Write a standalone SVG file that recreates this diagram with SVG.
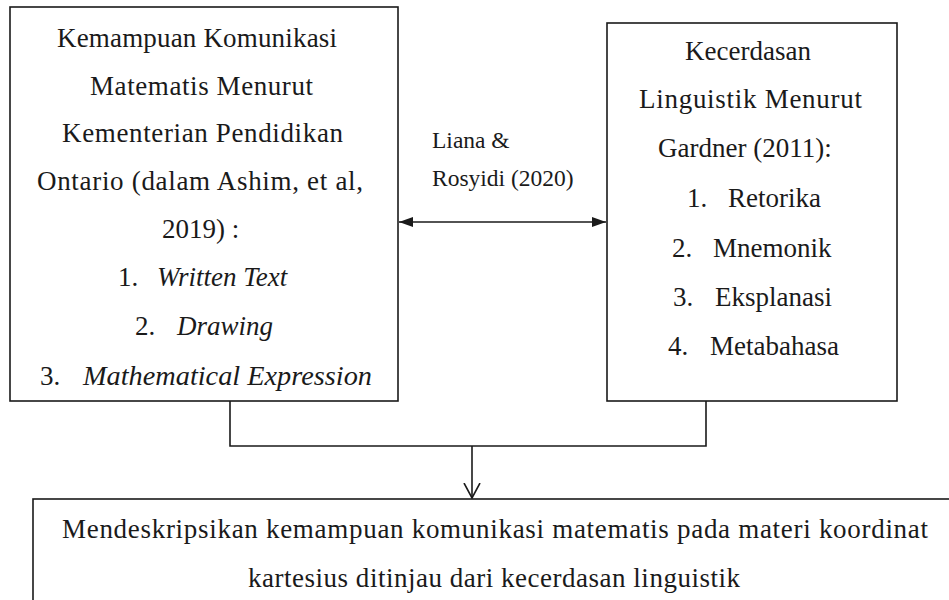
<svg xmlns="http://www.w3.org/2000/svg" width="949" height="600" viewBox="0 0 949 600" font-family="Liberation Serif, DejaVu Serif, Times New Roman, Times, serif">
<style>
  text { font-family: Liberation Serif, DejaVu Serif, Times New Roman, Times, serif; }
  .box { fill: #ffffff; stroke: #1a1a1a; stroke-width: 1.6; }
  .t { font-size: 27px; fill: #1a1a1a; }
  .i { font-style: italic; }
  .s { font-size: 23.5px; fill: #1a1a1a; }
  .ln { fill: none; stroke: #1a1a1a; stroke-width: 1.6; }
</style>
<defs>
  <marker id="tri" viewBox="0 0 14 10" refX="14" refY="5" markerWidth="14" markerHeight="10" markerUnits="userSpaceOnUse" orient="auto-start-reverse">
    <path d="M0,0 L14,5 L0,10 Z" fill="#1a1a1a"/>
  </marker>
  <marker id="vee" viewBox="0 0 16 18" refX="15" refY="9" markerWidth="16" markerHeight="18" markerUnits="userSpaceOnUse" orient="auto">
    <path d="M0,1 L15,9 L0,17" fill="none" stroke="#1a1a1a" stroke-width="1.6"/>
  </marker>
</defs>
<rect width="949" height="600" fill="#ffffff"/>

<g id="connectors">
  <line class="ln" x1="399" y1="222" x2="606" y2="222" marker-start="url(#tri)" marker-end="url(#tri)"/>
  <polyline class="ln" points="230,401 230,446 706,446 706,401"/>
  <line class="ln" x1="472" y1="446" x2="472" y2="498" marker-end="url(#vee)"/>
  <text class="s" x="432" y="148">Liana &amp;</text>
  <text class="s" x="432" y="186">Rosyidi (2020)</text>
</g>

<g id="node-left">
  <rect class="box" x="10" y="7" width="388" height="394"/>
  <text class="t" x="57" y="47" textLength="280" lengthAdjust="spacing">Kemampuan Komunikasi</text>
  <text class="t" x="90" y="95" textLength="223" lengthAdjust="spacing">Matematis Menurut</text>
  <text class="t" x="62" y="142" textLength="281" lengthAdjust="spacing">Kementerian Pendidikan</text>
  <text class="t" x="37" y="190" textLength="326" lengthAdjust="spacing">Ontario (dalam Ashim, et al,</text>
  <text class="t" x="162" y="238">2019) :</text>
  <text class="t" x="118" y="286">1.</text>
  <text class="t i" x="157" y="286">Written Text</text>
  <text class="t" x="135" y="335">2.</text>
  <text class="t i" x="177" y="335">Drawing</text>
  <text class="t" x="40" y="385">3.</text>
  <text class="t i" x="83" y="385" textLength="289" lengthAdjust="spacingAndGlyphs">Mathematical Expression</text>
</g>

<g id="node-right">
  <rect class="box" x="607" y="23" width="290" height="378"/>
  <text class="t" x="685" y="60">Kecerdasan</text>
  <text class="t" x="639" y="108" textLength="223" lengthAdjust="spacing">Linguistik Menurut</text>
  <text class="t" x="658" y="157">Gardner (2011):</text>
  <text class="t" x="687" y="207">1.</text>
  <text class="t" x="728" y="207">Retorika</text>
  <text class="t" x="672" y="257">2.</text>
  <text class="t" x="713" y="257">Mnemonik</text>
  <text class="t" x="673" y="306">3.</text>
  <text class="t" x="715" y="306">Eksplanasi</text>
  <text class="t" x="668" y="355">4.</text>
  <text class="t" x="710" y="355">Metabahasa</text>
</g>

<g id="node-bottom">
  <rect class="box" x="33" y="499" width="940" height="140"/>
  <text class="t" x="62" y="538" textLength="866" lengthAdjust="spacing">Mendeskripsikan kemampuan komunikasi matematis pada materi koordinat</text>
  <text class="t" x="248" y="587" textLength="492" lengthAdjust="spacing">kartesius ditinjau dari kecerdasan linguistik</text>
</g>
</svg>
